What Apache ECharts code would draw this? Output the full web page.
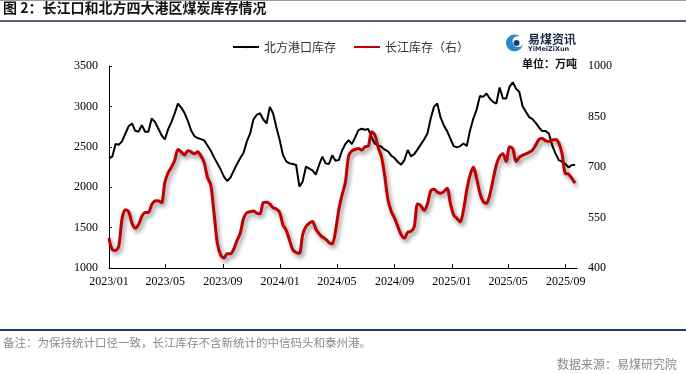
<!DOCTYPE html>
<html>
<head>
<meta charset="utf-8">
<script src="https://cdn.jsdelivr.net/npm/echarts@6/dist/echarts.min.js"></script>
<style>
html,body{margin:0;padding:0;background:#fff;}
#c{width:686px;height:374px;}
</style>
</head>
<body>
<div id="c"></div>
<script>
const dates = [
'2023-01-01','2023-01-08','2023-01-15','2023-01-22','2023-01-29','2023-02-05','2023-02-12','2023-02-19','2023-02-26','2023-03-05','2023-03-12','2023-03-19','2023-03-26','2023-04-02','2023-04-09','2023-04-16','2023-04-23','2023-04-30','2023-05-07','2023-05-14','2023-05-21','2023-05-28','2023-06-04','2023-06-11','2023-06-18','2023-06-25','2023-07-02','2023-07-09','2023-07-16','2023-07-23','2023-07-30','2023-08-06','2023-08-13','2023-08-20','2023-08-27','2023-09-03','2023-09-10','2023-09-17','2023-09-24','2023-10-01','2023-10-08','2023-10-15','2023-10-22','2023-10-29','2023-11-05','2023-11-12','2023-11-19','2023-11-26','2023-12-03','2023-12-10','2023-12-17','2023-12-24','2023-12-31',
'2024-01-07','2024-01-14','2024-01-21','2024-01-28','2024-02-04','2024-02-11','2024-02-18','2024-02-25','2024-03-03','2024-03-10','2024-03-17','2024-03-24','2024-03-31','2024-04-07','2024-04-14','2024-04-21','2024-04-28','2024-05-05','2024-05-12','2024-05-19','2024-05-26','2024-06-02','2024-06-09','2024-06-16','2024-06-23','2024-06-30','2024-07-07','2024-07-14','2024-07-21','2024-07-28','2024-08-04','2024-08-11','2024-08-18','2024-08-25','2024-09-01','2024-09-08','2024-09-15','2024-09-22','2024-09-29','2024-10-06','2024-10-13','2024-10-20','2024-10-27','2024-11-03','2024-11-10','2024-11-17','2024-11-24','2024-12-01','2024-12-08','2024-12-15','2024-12-22','2024-12-29',
'2025-01-05','2025-01-12','2025-01-19','2025-01-26','2025-02-02','2025-02-09','2025-02-16','2025-02-23','2025-03-02','2025-03-09','2025-03-16','2025-03-23','2025-03-30','2025-04-06','2025-04-13','2025-04-20','2025-04-27','2025-05-04','2025-05-11','2025-05-18','2025-05-25','2025-06-01','2025-06-08','2025-06-15','2025-06-22','2025-06-29','2025-07-06','2025-07-13','2025-07-20','2025-07-27','2025-08-03','2025-08-10','2025-08-17','2025-08-24','2025-08-31','2025-09-07','2025-09-14','2025-09-21'
];
// 北方港口库存 (left axis)
const northPort = [
2357,2378,2534,2526,2571,2665,2756,2789,2698,2686,
2768,2686,2686,2850,2809,2727,2645,2591,2715,2805,
2912,3035,2986,2920,2822,2706,2632,2608,2595,2579,
2517,2452,2369,2295,2221,2131,2077,2118,2205,2287,
2361,2427,2567,2665,2838,2896,2916,2838,2789,2994,
2912,2739,2583,2398,2320,2295,2287,2275,2007,2069,
2254,2229,2209,2155,2275,2378,2295,2287,2394,2328,
2336,2452,2534,2583,2534,2616,2706,2723,2711,2719,
2616,2538,2517,2501,2464,2443,2390,2361,2312,2279,
2336,2460,2382,2410,2468,2530,2591,2665,2850,2994,
3035,2863,2764,2694,2600,2509,2493,2509,2542,2509,
2706,2850,2961,3130,3118,3159,3097,3056,3035,3233,
3097,3097,3241,3299,3220,3179,3003,2933,2867,2842,
2797,2739,2694,2694,2665,2521,2419,2336,2316,2287,
2246,2275,2275
];
// 长江库存 (right axis)
const yangtze = [
489,454,452,466,548,573,567,533,518,529,
553,565,565,588,599,600,594,654,683,699,
719,752,745,736,748,745,739,745,733,713,
669,647,563,474,439,430,442,442,456,482,
504,548,564,567,569,563,561,594,595,590,
579,575,565,528,512,482,454,446,444,499,
523,533,538,516,502,492,486,476,472,509,
573,617,654,733,748,752,755,750,760,762,
805,795,758,731,673,602,568,548,523,499,
489,506,509,523,590,585,571,590,629,634,
626,622,627,637,592,558,547,537,573,632,
676,699,666,622,597,592,617,662,706,731,
739,716,760,755,716,729,735,739,744,750,
765,782,785,778,776,780,782,772,740,681,
679,666,652
];
const xTickDates = ['2023-01-01','2023-05-01','2023-09-01','2024-01-01','2024-05-01','2024-09-01','2025-01-01','2025-05-01','2025-09-01'];
const leftTicks = [1000,1500,2000,2500,3000,3500];
const rightTicks = [400,550,700,850,1000];
const seriesNames = ['北方港口库存','长江库存（右）'];

function ts(s){const p=s.split('-');return new Date(+p[0],+p[1]-1,+p[2]).getTime();}
const xTicks = xTickDates.map(ts);
const serif = '"Liberation Serif","Times New Roman",serif';
const sans = '"Noto Sans CJK SC","Noto Sans",sans-serif';
const plain = function(v){return String(v);};

const chart = echarts.init(document.getElementById('c'), null, {renderer:'canvas'});
chart.setOption({
  animation:false,
  backgroundColor:'#fff',
  grid:{left:109,right:109,top:66,bottom:106},
  legend:{
    left:227, top:36, itemWidth:26, itemHeight:3, itemGap:17,
    textStyle:{fontFamily:sans,fontSize:12,color:'#333'},
    data:seriesNames
  },
  xAxis:{
    type:'value',
    min:ts('2023-01-01'), max:ts('2025-09-25'),
    axisLine:{show:true,lineStyle:{color:'#000',width:1}},
    axisTick:{show:true,inside:true,length:4,customValues:xTicks,lineStyle:{color:'#000'}},
    axisLabel:{customValues:xTicks,margin:8,color:'#000',fontFamily:serif,fontSize:12,
      formatter:function(v){const d=new Date(v);return d.getFullYear()+'/'+String(d.getMonth()+1).padStart(2,'0');}},
    splitLine:{show:false}
  },
  yAxis:[{
    type:'value',min:1000,max:3500,
    axisLine:{show:true,lineStyle:{color:'#000'}},
    axisTick:{show:true,inside:true,length:3,customValues:leftTicks,lineStyle:{color:'#000'}},
    axisLabel:{customValues:leftTicks,margin:11,color:'#000',fontFamily:serif,fontSize:12,formatter:plain},
    splitLine:{show:false}
  },{
    type:'value',min:400,max:1000,position:'right',
    axisLine:{show:false},
    axisTick:{show:false,customValues:rightTicks},
    axisLabel:{customValues:rightTicks,margin:11,color:'#000',fontFamily:serif,fontSize:12,formatter:plain},
    splitLine:{show:false}
  }],
  series:[{
    name:seriesNames[0],type:'line',yAxisIndex:0,symbol:'none',
    lineStyle:{color:'#000',width:2},itemStyle:{color:'#000'},
    data:dates.map((d,i)=>[ts(d),northPort[i]])
  },{
    name:seriesNames[1],type:'line',yAxisIndex:1,symbol:'none',smooth:0.3,
    lineStyle:{color:'#c00000',width:3,shadowColor:'rgba(0,0,0,0.45)',shadowBlur:4,shadowOffsetX:2,shadowOffsetY:3},
    itemStyle:{color:'#c00000'},
    data:dates.map((d,i)=>[ts(d),yangtze[i]])
  }],
  graphic:[
    {type:'line',shape:{x1:0,y1:0.5,x2:686,y2:0.5},style:{stroke:'#8e9cb5',lineWidth:1}},
    {type:'text',left:3,top:1,style:{text:'图 2：长江口和北方四大港区煤炭库存情况',fontFamily:sans,fontSize:14,fontWeight:'bold',fill:'#111'}},
    {type:'line',shape:{x1:0,y1:21,x2:686,y2:21},style:{stroke:'#1f2d5a',lineWidth:1.5}},
    {type:'circle',shape:{cx:514.5,cy:43,r:8.5},style:{fill:'#2d86c8'}},
    {type:'circle',shape:{cx:518,cy:41.5,r:5.5},style:{fill:'#fff'}},
    {type:'circle',shape:{cx:516.5,cy:43,r:3},style:{fill:'#1b3d6e'}},
    {type:'text',x:528,y:39.5,style:{text:'易煤资讯',fontFamily:sans,fontSize:12,fontWeight:'bold',fill:'#1b2a4a',verticalAlign:'middle'}},
    {type:'text',x:528,y:49.5,style:{text:'YiMeiZiXun',fontFamily:'"DejaVu Sans",sans-serif',fontSize:6.5,fontWeight:'bold',fill:'#1b2a4a',verticalAlign:'middle'}},
    {type:'text',x:577,y:64,style:{text:'单位：万吨',fontFamily:sans,fontSize:11,fontWeight:'bold',fill:'#111',align:'right',verticalAlign:'middle'}},
    {type:'line',shape:{x1:0,y1:330,x2:686,y2:330},style:{stroke:'#1f3a6e',lineWidth:2}},
    {type:'text',x:3,y:343,style:{text:'备注：为保持统计口径一致，长江库存不含新统计的中信码头和泰州港。',fontFamily:sans,fontSize:11.5,fill:'#8a8a8a',verticalAlign:'middle'}},
    {type:'text',x:677,y:364,style:{text:'数据来源：易煤研究院',fontFamily:sans,fontSize:12,fill:'#8a8a8a',align:'right',verticalAlign:'middle'}}
  ]
});
</script>
</body>
</html>
